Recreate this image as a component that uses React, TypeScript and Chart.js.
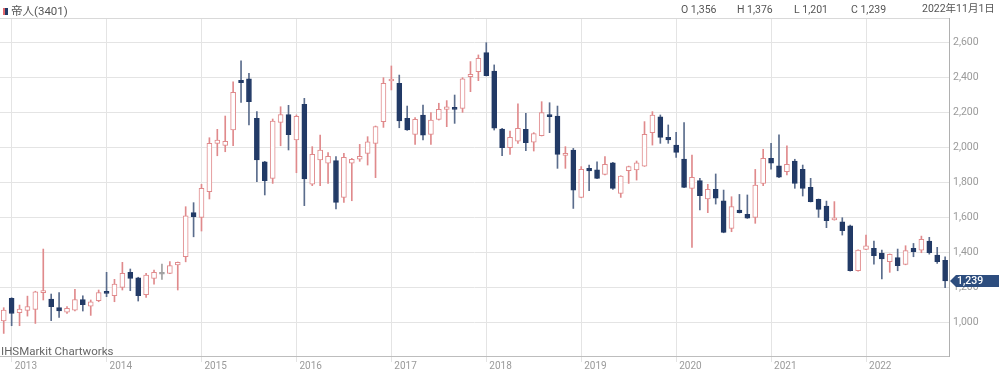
import React, { useEffect, useRef } from "react";
import { Chart, registerables } from "chart.js";

Chart.register(...registerables);

// Monthly candles, Dec 2012 (index 0) to Nov 2022 (index 119)
const opens = [
  1010,
  1139, 1057, 1071, 1076, 1172, 1135, 1086, 1061, 1072, 1132, 1095, 1126,
  1175, 1154, 1202, 1288, 1257, 1160, 1253, 1277, 1282, 1330, 1377, 1629,
  1602, 1749, 2025, 2013, 2101, 2385, 2393, 2168, 1920, 1825, 2145, 2189,
  2044, 2248, 1792, 1930, 1911, 1926, 1716, 1911, 1935, 1968, 2025, 2149,
  2381, 2368, 2168, 2076, 2187, 2076, 2162, 2219, 2223, 2225, 2406, 2434,
  2543, 2438, 2107, 2000, 2038, 2105, 2031, 2069, 2189, 2181, 1956, 1987,
  1716, 1882, 1873, 1848, 1914, 1739, 1869, 1873, 1895, 2086, 2177, 2059,
  2015, 1935, 1768, 1812, 1707, 1762, 1697, 1539, 1644, 1619, 1602, 1796,
  1939, 1897, 1863, 1924, 1876, 1773, 1705, 1667, 1588, 1577, 1553, 1297,
  1419, 1425, 1398, 1349, 1372, 1333, 1425, 1415, 1467, 1387, 1356,
];

const highs = [
  1086,
  1143, 1101, 1152, 1180, 1421, 1164, 1173, 1092, 1191, 1154, 1130, 1187,
  1288, 1248, 1345, 1307, 1260, 1282, 1301, 1335, 1349, 1347, 1663, 1686,
  1791, 2057, 2105, 2181, 2377, 2497, 2425, 2206, 1922, 2164, 2234, 2242,
  2187, 2282, 2006, 2072, 1972, 1949, 1968, 1939, 2019, 2063, 2124, 2400,
  2467, 2415, 2238, 2172, 2244, 2200, 2254, 2269, 2301, 2400, 2492, 2530,
  2600, 2473, 2110, 2095, 2250, 2196, 2086, 2263, 2257, 2238, 2006, 1996,
  1892, 1901, 1920, 1949, 1916, 1840, 1895, 1924, 2149, 2206, 2187, 2130,
  2088, 2143, 1958, 1825, 1791, 1850, 1758, 1720, 1733, 1730, 1876, 1991,
  2025, 2073, 2010, 1934, 1901, 1825, 1707, 1695, 1692, 1600, 1558, 1417,
  1501, 1467, 1415, 1393, 1421, 1440, 1453, 1495, 1488, 1431, 1376,
];

const lows = [
  939,
  983, 983, 1038, 996, 1130, 1012, 1031, 1053, 1067, 1067, 1042, 1120,
  1149, 1120, 1187, 1183, 1124, 1145, 1221, 1248, 1280, 1187, 1348, 1491,
  1524, 1707, 1954, 1977, 2011, 2259, 2130, 1806, 1730, 1796, 2011, 1987,
  1857, 1669, 1783, 1783, 1796, 1650, 1688, 1697, 1922, 1901, 1829, 2116,
  2330, 2114, 2099, 2019, 2044, 2019, 2158, 2120, 2139, 2202, 2320, 2383,
  2410, 2101, 1954, 1962, 2025, 1983, 1981, 2067, 2086, 1882, 1882, 1653,
  1714, 1754, 1823, 1844, 1762, 1716, 1796, 1815, 1893, 2015, 2025, 2025,
  1945, 1771, 1431, 1644, 1629, 1678, 1514, 1520, 1627, 1596, 1568, 1783,
  1878, 1829, 1844, 1768, 1724, 1690, 1602, 1543, 1586, 1501, 1295, 1295,
  1417, 1335, 1250, 1288, 1297, 1331, 1377, 1400, 1392, 1339, 1201,
];

const closes = [
  1073,
  1053, 1078, 1093, 1177, 1175, 1092, 1067, 1082, 1133, 1103, 1120, 1173,
  1168, 1221, 1282, 1253, 1154, 1272, 1288, 1277, 1326, 1345, 1611, 1606,
  1768, 2025, 2044, 2036, 2316, 2372, 2263, 1930, 1811, 2152, 2189, 2074,
  2179, 1821, 1962, 1987, 1951, 1688, 1945, 1933, 1951, 2034, 2120, 2368,
  2391, 2153, 2101, 2162, 2071, 2158, 2219, 2234, 2219, 2393, 2419, 2511,
  2412, 2111, 2000, 2059, 2111, 2029, 2080, 2200, 2177, 1962, 1964, 1758,
  1876, 1867, 1825, 1905, 1768, 1838, 1892, 1914, 2076, 2187, 2059, 2044,
  1973, 1773, 1831, 1726, 1762, 1711, 1516, 1663, 1629, 1598, 1787, 1939,
  1911, 1831, 1905, 1796, 1768, 1692, 1648, 1583, 1592, 1526, 1297, 1415,
  1440, 1383, 1364, 1391, 1326, 1412, 1406, 1476, 1400, 1349, 1239,
];

const yearLabels = ["2013", "2014", "2015", "2016", "2017", "2018", "2019", "2020", "2021", "2022"];
const yearTickIndex = [1, 13, 25, 37, 49, 61, 73, 85, 97, 109];
const priceTicks = [1000, 1200, 1400, 1600, 1800, 2000, 2200, 2400, 2600];

const title = "帝人(3401)";
const dateLabel = "2022年11月1日";
const watermark = "IHSMarkit Chartworks";

const UP = "#e08a8c";
const DOWN = "#223a66";
const DOWN_WICK = "#5a6c8c";
const FLAT = "#a0a0a0";
const FONT = 'Roboto, "Noto Sans CJK JP", sans-serif';

const fmt = (v: number) => v.toLocaleString("en-US");

const colorFor = (i: number) =>
  closes[i] > opens[i] ? UP : closes[i] < opens[i] ? DOWN : FLAT;

const frame = {
  id: "frame",
  afterDraw(chart: any) {
    const { ctx, chartArea } = chart;
    ctx.save();
    ctx.strokeStyle = "#d9d9d9";
    ctx.lineWidth = 1;
    ctx.beginPath();
    ctx.moveTo(0, Math.round(chartArea.top) + 0.5);
    ctx.lineTo(chartArea.right, Math.round(chartArea.top) + 0.5);
    ctx.stroke();

    const last = closes[closes.length - 1];
    const y = chart.scales.y.getPixelForValue(last);
    const x0 = chartArea.right + 1;
    ctx.fillStyle = "#2d4d7e";
    ctx.beginPath();
    ctx.moveTo(x0, y);
    ctx.lineTo(x0 + 6, y - 6);
    ctx.lineTo(999, y - 6);
    ctx.lineTo(999, y + 6);
    ctx.lineTo(x0 + 6, y + 6);
    ctx.closePath();
    ctx.fill();
    ctx.fillStyle = "#ffffff";
    ctx.font = "500 10.5px " + FONT;
    ctx.textBaseline = "middle";
    ctx.textAlign = "left";
    ctx.fillText(fmt(last), x0 + 7, y + 0.5);
    ctx.restore();
  },
};

export default function App() {
  const ref = useRef<HTMLCanvasElement | null>(null);

  useEffect(() => {
    document.body.style.margin = "0";
    const idx = closes.map((_, i) => i);
    const chart = new Chart(ref.current as HTMLCanvasElement, {
      type: "bar",
      data: {
        datasets: [
          {
            label: "body",
            data: idx.map((i) => ({ x: i, y: [opens[i], closes[i]] })) as any,
            backgroundColor: idx.map((i) => (closes[i] > opens[i] ? "#ffffff" : colorFor(i))),
            borderColor: idx.map((i) => colorFor(i)),
            borderWidth: 1,
            borderSkipped: false,
            barThickness: 5,
            minBarLength: 2,
            grouped: false,
          } as any,
          {
            label: "wick",
            data: idx.map((i) => ({ x: i, y: [lows[i], highs[i]] })) as any,
            backgroundColor: idx.map((i) => (closes[i] < opens[i] ? DOWN_WICK : colorFor(i))),
            borderWidth: 0,
            barThickness: 1,
            grouped: false,
          } as any,
        ],
      },
      options: {
        responsive: false,
        animation: false,
        devicePixelRatio: 1,
        layout: { padding: { top: 18, left: 0, right: 0, bottom: 0 } },
        plugins: { legend: { display: false }, tooltip: { enabled: false } },
        scales: {
          x: {
            type: "linear",
            min: -0.47,
            max: 119.49,
            offset: false,
            afterBuildTicks: (s: any) => {
              s.ticks = yearTickIndex.map((v) => ({ value: v }));
            },
            afterFit: (s: any) => {
              s.height = 25;
            },
            grid: { color: "#e4e4e4", lineWidth: 1, drawTicks: true, tickLength: 6, offset: false },
            border: { color: "#bdbdbd", width: 1 },
            ticks: {
              align: "start",
              labelOffset: 3,
              padding: -2,
              maxRotation: 0,
              autoSkip: false,
              color: "#9a9a9a",
              font: { family: FONT, size: 10 },
              callback: (_v: any, i: number) => yearLabels[i],
            },
          } as any,
          y: {
            type: "linear",
            position: "right",
            min: 810,
            max: 2741,
            afterBuildTicks: (s: any) => {
              s.ticks = priceTicks.map((v) => ({ value: v }));
            },
            afterFit: (s: any) => {
              s.width = 51;
            },
            grid: { color: "#e4e4e4", lineWidth: 1, drawTicks: false },
            border: { color: "#b0b0b0", width: 1 },
            ticks: {
              padding: 4,
              color: "#9a9a9a",
              font: { family: FONT, size: 10.5 },
              callback: (v: any) => fmt(Number(v)),
            },
          } as any,
        },
      },
      plugins: [frame],
    });
    return () => chart.destroy();
  }, []);

  const n = closes.length - 1;
  const textStyle: React.CSSProperties = {
    position: "absolute",
    fontFamily: FONT,
    fontSize: "10.5px",
    color: "#555",
    lineHeight: "12px",
    top: 4,
    whiteSpace: "nowrap",
  };

  return (
    <div style={{ position: "relative", width: 1000, height: 381, overflow: "hidden", background: "#fff" }}>
      <canvas ref={ref} width={1000} height={381} style={{ position: "absolute", left: 0, top: 0 }} />
      <div style={{ position: "absolute", left: 3, top: 8, width: 2, height: 7, background: "#e0676b" }} />
      <div style={{ position: "absolute", left: 5, top: 8, width: 3, height: 7, background: "#223a66" }} />
      <div style={{ ...textStyle, left: 11, top: 5, fontSize: "11.5px" }}>{title}</div>
      <div style={{ ...textStyle, left: 681 }}>{"O " + fmt(opens[n])}</div>
      <div style={{ ...textStyle, left: 737 }}>{"H " + fmt(highs[n])}</div>
      <div style={{ ...textStyle, left: 794 }}>{"L " + fmt(lows[n])}</div>
      <div style={{ ...textStyle, left: 851 }}>{"C " + fmt(closes[n])}</div>
      <div style={{ ...textStyle, left: 922, top: 3 }}>{dateLabel}</div>
      <div style={{ ...textStyle, left: 1, top: 345, fontSize: "11.5px", color: "#666" }}>{watermark}</div>
    </div>
  );
}
